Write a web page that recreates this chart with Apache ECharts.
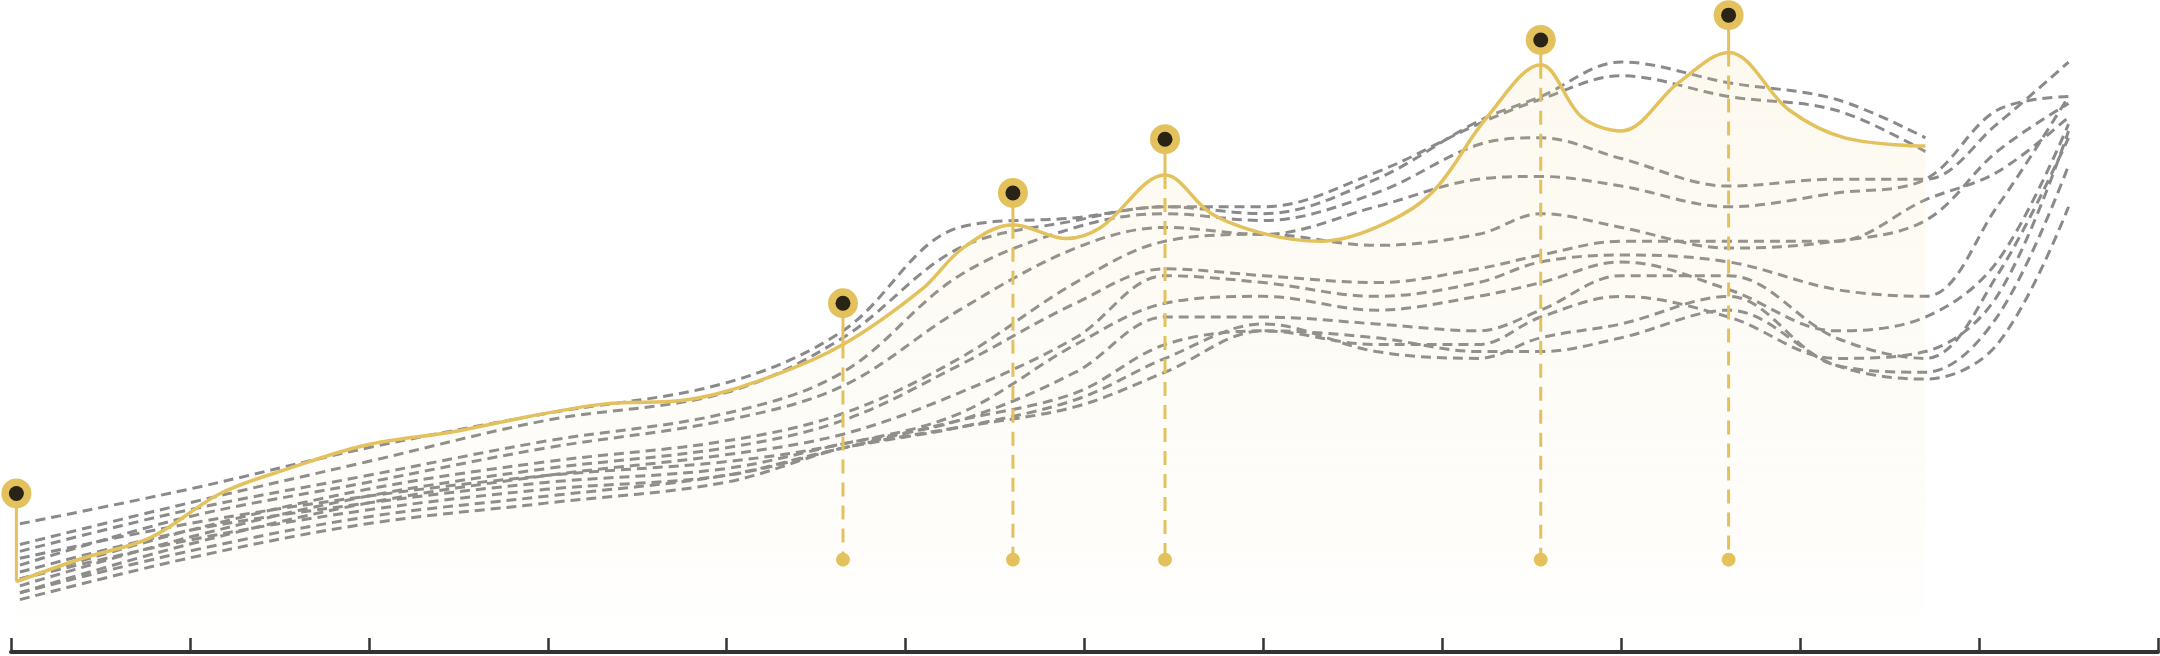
<!DOCTYPE html>
<html>
<head>
<meta charset="utf-8">
<script src="https://cdn.jsdelivr.net/npm/echarts@6/dist/echarts.min.js"></script>
<style>html,body{margin:0;padding:0;background:#fff}#main{width:2160px;height:656px}</style>
</head>
<body>
<div id="main"></div>
<script>
// x in axis units (0..12), y measured downward from top (inverse axis)
var grayX = [0.05, 0.99, 1.99, 2.99, 3.99, 4.65, 5.3, 5.95, 6.45, 7, 7.63, 8.2, 8.55, 9, 9.6, 10.2, 10.7, 11.1, 11.5];
var grayLines = [
    [380, 355, 325, 300, 278, 240, 165, 158, 150, 155, 130, 88, 70, 45, 60, 72, 100],
    [395, 365, 335, 305, 285, 245, 180, 160, 150, 150, 125, 90, 72, 55, 70, 80, 110],
    [400, 370, 345, 320, 300, 270, 200, 165, 155, 160, 140, 105, 100, 115, 135, 130, 130, 90, 45],
    [410, 375, 350, 325, 305, 280, 225, 180, 165, 170, 150, 130, 128, 135, 150, 140, 130, 80, 70],
    [420, 385, 355, 335, 320, 300, 260, 205, 175, 170, 178, 170, 155, 165, 180, 175, 160, 110, 75],
    [425, 390, 360, 340, 325, 305, 265, 220, 195, 200, 205, 195, 185, 175, 175, 175, 145, 125, 85],
    [430, 395, 365, 345, 330, 315, 285, 245, 200, 205, 215, 205, 190, 185, 190, 210, 215, 150, 70],
    [405, 380, 360, 345, 335, 322, 300, 250, 220, 215, 225, 215, 205, 190, 210, 240, 230, 190, 90],
    [415, 385, 365, 350, 340, 322, 305, 270, 230, 230, 235, 240, 225, 200, 200, 245, 260, 200, 100],
    [420, 392, 370, 355, 345, 325, 305, 285, 250, 240, 250, 250, 230, 215, 230, 260, 255, 215, 95],
    [430, 400, 375, 360, 345, 325, 310, 290, 260, 235, 255, 260, 245, 235, 215, 265, 270, 230, 120],
    [435, 405, 380, 365, 350, 325, 310, 295, 270, 240, 245, 255, 255, 245, 225, 265, 275, 250, 150]
];
var mainX = [0.03, 0.4, 0.78, 1.17, 1.55, 1.98, 2.48, 2.86, 3.32, 3.78, 4.25, 4.65, 5.09, 5.32, 5.6, 5.9, 6.09, 6.45, 6.71, 7.02, 7.32, 7.63, 7.94, 8.25, 8.55, 8.78, 9, 9.32, 9.6, 9.94, 10.25, 10.7];
var mainY = [422, 405, 390, 358, 340, 323, 313, 303, 293, 290, 273, 250, 210, 180, 163, 173, 165, 127, 155, 170, 175, 165, 140, 85, 47, 85, 95, 60, 38, 80, 100, 106];
var pinX = [0.03, 4.65, 5.6, 6.45, 8.55, 9.6];
var pinTop = [358, 220, 140, 101, 29, 11];
var pinCurve = [422, 250, 163, 127, 47, 38];
var pinFoot = [null, 406, 406, 406, 406, 406];

var gold = '#e3c25e';
var series = [];
grayLines.forEach(function (ys, k) {
    series.push({
        type: 'line', smooth: 0.35, symbol: 'none', silent: true,
        lineStyle: { color: '#8a8a8a', width: 3, type: [10, 6] },
        data: ys.map(function (y, i) { return [grayX[i], y]; }),
        z: 2
    });
});
series.push({
    type: 'line', smooth: 0.35, symbol: 'none',
    lineStyle: { color: gold, width: 3.5 },
    areaStyle: {
        origin: 'end',
        color: new echarts.graphic.LinearGradient(0, 0, 0, 1, [
            { offset: 0, color: 'rgba(240,215,150,0.22)' },
            { offset: 0.85, color: 'rgba(240,215,150,0.05)' },
            { offset: 1, color: 'rgba(240,215,150,0)' }
        ])
    },
    data: mainY.map(function (y, i) { return [mainX[i], y]; }),
    z: 3
});
series.push({
    type: 'custom',
    data: pinX.map(function (x, i) { return [x, pinTop[i], pinCurve[i], pinFoot[i] === null ? -1 : pinFoot[i]]; }),
    renderItem: function (params, api) {
        var top = api.coord([api.value(0), api.value(1)]);
        var cur = api.coord([api.value(0), api.value(2)]);
        var kids = [{
            type: 'line', shape: { x1: top[0], y1: top[1], x2: cur[0], y2: cur[1] },
            style: { stroke: gold, lineWidth: 3 }
        }];
        if (api.value(3) > 0) {
            var foot = api.coord([api.value(0), api.value(3)]);
            kids.push({
                type: 'line', shape: { x1: cur[0], y1: cur[1], x2: foot[0], y2: foot[1] },
                style: { stroke: gold, lineWidth: 3, lineDash: [14, 9] }
            });
            kids.push({ type: 'circle', shape: { cx: foot[0], cy: foot[1], r: 7 }, style: { fill: gold } });
        }
        kids.push({ type: 'circle', shape: { cx: top[0], cy: top[1], r: 15 }, style: { fill: gold } });
        kids.push({ type: 'circle', shape: { cx: top[0], cy: top[1], r: 7.5 }, style: { fill: '#2a2416' } });
        return { type: 'group', children: kids };
    },
    z: 5
});

var chart = echarts.init(document.getElementById('main'));
chart.setOption({
    animation: false,
    grid: { left: 11, right: 2, top: 0, bottom: 4 },
    xAxis: {
        type: 'value', min: 0, max: 12, interval: 1, position: 'bottom',
        axisLine: { show: true, onZero: false, lineStyle: { color: '#333', width: 4 } },
        axisTick: { show: true, inside: true, length: 14, lineStyle: { color: '#333', width: 2.5 } },
        axisLabel: { show: false }, splitLine: { show: false }
    },
    yAxis: { type: 'value', min: 0, max: 473, inverse: true, show: false },
    series: series
});
</script>
</body>
</html>
